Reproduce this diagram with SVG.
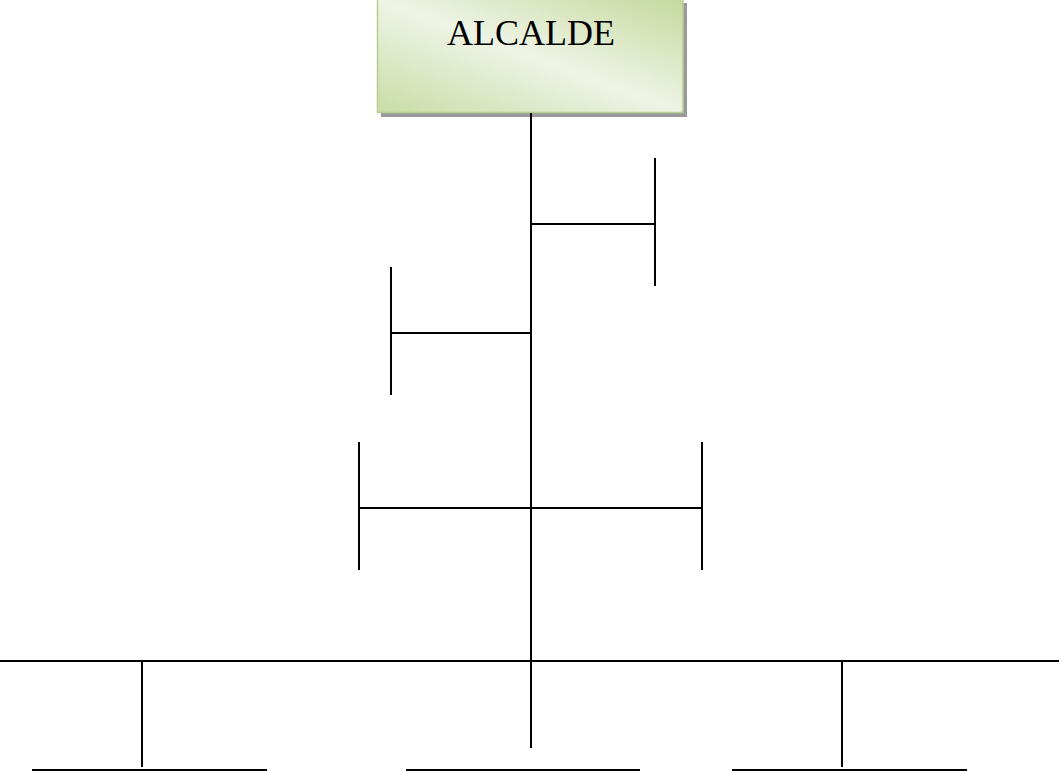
<svg xmlns="http://www.w3.org/2000/svg" width="1059" height="771" viewBox="0 0 1059 771">
<style>
.ln{stroke:#000;stroke-width:2;fill:none;stroke-linecap:butt}
.lbl{font-family:"Liberation Serif","Times New Roman",serif;font-size:36px;fill:#000;text-anchor:middle}
</style>
<defs>
<linearGradient id="g" x1="0" y1="1" x2="1" y2="0">
<stop offset="0" stop-color="#c9dca6"/>
<stop offset="0.5" stop-color="#eef4e5"/>
<stop offset="1" stop-color="#c5d99e"/>
</linearGradient>
</defs>
<rect width="1059" height="771" fill="#fff"/>
<g id="alcalde">
<rect x="381" y="3" width="306" height="114" fill="#9a9a9a"/>
<rect x="377.5" y="-1" width="305.5" height="113.5" fill="url(#g)" stroke="#b8ce90" stroke-width="1.5"/>
<text class="lbl" x="531" y="45">ALCALDE</text>
</g>
<g id="connectors">
<line class="ln" x1="531" y1="113" x2="531" y2="748"/>
<line class="ln" x1="531" y1="224" x2="655" y2="224"/>
<line class="ln" x1="655" y1="158" x2="655" y2="286"/>
<line class="ln" x1="391" y1="333" x2="531" y2="333"/>
<line class="ln" x1="391" y1="267" x2="391" y2="395"/>
<line class="ln" x1="359" y1="508" x2="702" y2="508"/>
<line class="ln" x1="359" y1="442" x2="359" y2="570"/>
<line class="ln" x1="702" y1="442" x2="702" y2="570"/>
<line class="ln" x1="0" y1="661" x2="1059" y2="661"/>
<line class="ln" x1="142" y1="661" x2="142" y2="767"/>
<line class="ln" x1="842" y1="661" x2="842" y2="767"/>
<line class="ln" x1="32" y1="770" x2="267" y2="770"/>
<line class="ln" x1="406" y1="770" x2="640" y2="770"/>
<line class="ln" x1="732" y1="770" x2="967" y2="770"/>
</g>
</svg>
